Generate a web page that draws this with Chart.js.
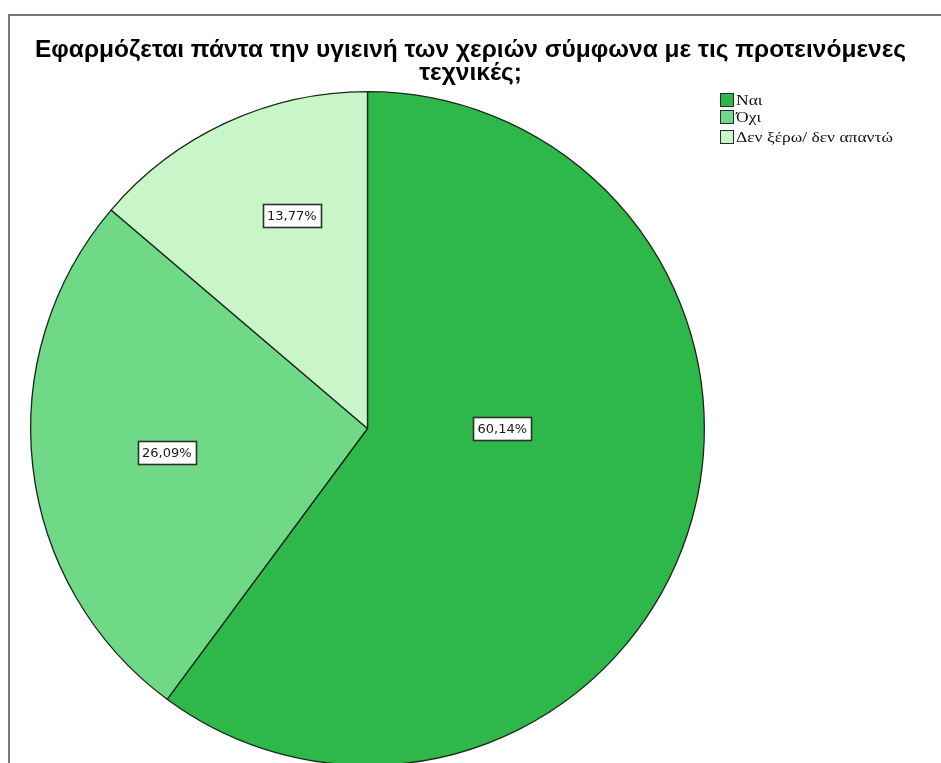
<!DOCTYPE html>
<html>
<head>
<meta charset="utf-8">
<script src="https://cdn.jsdelivr.net/npm/chart.js@4/dist/chart.umd.min.js"></script>
<style>
  html, body { margin: 0; padding: 0; background: #ffffff; overflow: hidden; }
  #wrap { width: 941px; height: 763px; overflow: hidden; position: relative; }
  canvas { display: block; }
</style>
</head>
<body>
<div id="wrap"><canvas id="c" width="941" height="790"></canvas></div>
<script>
// Survey answers and their shares (%)
const titleLines = ['Εφαρμόζεται πάντα την υγιεινή των χεριών σύμφωνα με τις προτεινόμενες', 'τεχνικές;'];
const categories = ['Ναι', 'Όχι', 'Δεν ξέρω/ δεν απαντώ'];
const shares = [60.14, 26.09, 13.77];
const sliceColors = ['#2eb84a', '#6fd987', '#c9f6c9'];

// Draw text squeezed/stretched horizontally by scaleX
function fitText(ctx, txt, x, y, scaleX) {
  ctx.save();
  ctx.translate(x, y);
  ctx.scale(scaleX, 1);
  ctx.fillText(txt, 0, 0);
  ctx.restore();
}

// Percent labels in boxes, placed inside each slice
const boxLabels = {
  id: 'boxLabels',
  afterDatasetsDraw(chart, args, opts) {
    const ctx = chart.ctx;
    const meta = chart.getDatasetMeta(0);
    ctx.save();
    ctx.font = opts.font;
    ctx.textAlign = 'center';
    ctx.textBaseline = 'middle';
    meta.data.forEach((arc, i) => {
      const p = arc.getProps(['x', 'y', 'startAngle', 'endAngle', 'outerRadius'], true);
      const a = p.startAngle + (p.endAngle - p.startAngle) * opts.angleFrac[i];
      const r = p.outerRadius * opts.radial[i];
      const x = p.x + Math.cos(a) * r;
      const y = p.y + Math.sin(a) * r;
      const txt = shares[i].toFixed(2).replace('.', ',') + '%';
      const w = Math.round(ctx.measureText(txt).width + 8);
      const h = 23;
      const bx = Math.round(x - w / 2) + 0.5;
      const by = Math.round(y - h / 2) + 0.5;
      ctx.fillStyle = '#ffffff';
      ctx.fillRect(bx, by, w, h);
      ctx.strokeStyle = '#263326';
      ctx.lineWidth = 1.6;
      ctx.strokeRect(bx, by, w, h);
      ctx.fillStyle = '#1a1a1a';
      ctx.fillText(txt, x, y + 1);
    });
    ctx.restore();
  }
};

// Outer frame, heading and the swatch legend
const decor = {
  id: 'decor',
  beforeDraw(chart) {
    const ctx = chart.ctx;
    ctx.save();
    ctx.fillStyle = '#ffffff';
    ctx.fillRect(0, 0, chart.width, chart.height);
    ctx.strokeStyle = '#7a7a7a';
    ctx.lineWidth = 2;
    ctx.beginPath();
    ctx.moveTo(9, chart.height + 5);
    ctx.lineTo(9, 15);
    ctx.lineTo(chart.width + 5, 15);
    ctx.stroke();
    ctx.restore();
  },
  afterDraw(chart) {
    const ctx = chart.ctx;
    ctx.save();
    ctx.fillStyle = '#000000';
    ctx.textAlign = 'center';
    ctx.textBaseline = 'middle';
    ctx.font = 'bold 24px "Liberation Sans", Arial, sans-serif';
    const titleScale = 871 / ctx.measureText(titleLines[0]).width;
    fitText(ctx, titleLines[0], 470.5, 50, titleScale);
    fitText(ctx, titleLines[1], 470.5, 73, titleScale);

    const rows = [100, 117, 137];
    ctx.font = '15px "Liberation Serif", "DejaVu Serif", serif';
    ctx.textAlign = 'left';
    const legScale = 157 / ctx.measureText(categories[2]).width;
    categories.forEach((name, i) => {
      const y = rows[i];
      ctx.fillStyle = sliceColors[i];
      ctx.fillRect(720.5, y - 6.5, 13, 13);
      ctx.strokeStyle = '#2a2a2a';
      ctx.lineWidth = 1;
      ctx.strokeRect(720.5, y - 6.5, 13, 13);
      ctx.fillStyle = '#111111';
      fitText(ctx, name, 736, y + 1, legScale);
    });
    ctx.restore();
  }
};

new Chart(document.getElementById('c'), {
  type: 'pie',
  data: {
    labels: categories,
    datasets: [{
      data: shares,
      backgroundColor: sliceColors,
      borderColor: '#1a281a',
      borderWidth: 1.3
    }]
  },
  options: {
    responsive: false,
    animation: false,
    layout: { padding: { left: 30, top: 91, right: 236, bottom: 24 } },
    plugins: {
      legend: { display: false },
      tooltip: { enabled: false },
      title: { display: false },
      boxLabels: {
        font: '13px "DejaVu Sans", Verdana, sans-serif',
        angleFrac: [0.416, 0.497, 0.605],
        radial: [0.40, 0.60, 0.67]
      }
    }
  },
  plugins: [decor, boxLabels]
});
</script>
</body>
</html>
